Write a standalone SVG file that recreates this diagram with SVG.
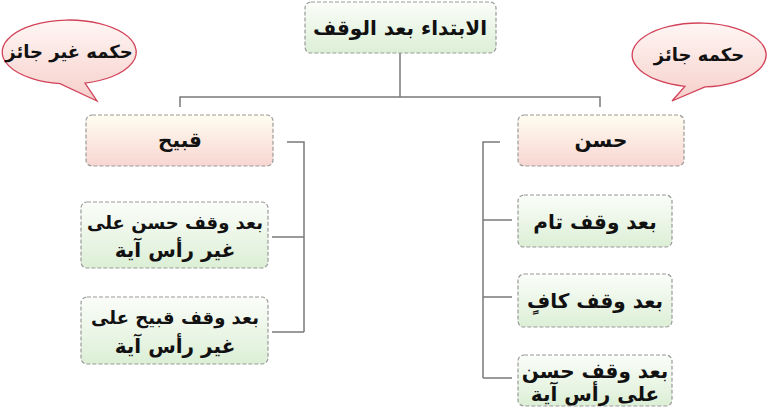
<svg xmlns="http://www.w3.org/2000/svg" width="768" height="408" viewBox="0 0 768 408">
<defs>
<linearGradient id="g" x1="0" y1="0" x2="0" y2="1"><stop offset="0" stop-color="#fbfdf9"/><stop offset="1" stop-color="#dcefd6"/></linearGradient>
<linearGradient id="p" x1="0" y1="0" x2="0" y2="1"><stop offset="0" stop-color="#fffdf0"/><stop offset="1" stop-color="#f8d6d2"/></linearGradient>
<linearGradient id="b" x1="0" y1="0" x2="0" y2="1"><stop offset="0" stop-color="#fff6f4"/><stop offset="1" stop-color="#f6cfca"/></linearGradient>
</defs>
<style>
.n{stroke:#9a9a9a;stroke-width:1.2;stroke-dasharray:4 2}
.gr{fill:url(#g)}.pk{fill:url(#p)}
text{font-family:"DejaVu Sans",sans-serif;font-weight:bold;font-size:20px;fill:#111;text-anchor:middle}
.s{font-size:18px}
.c{fill:none;stroke:#7a7a7a;stroke-width:1.5}
.bub{fill:url(#b);stroke:#d2435a;stroke-width:1.3}
</style>
<g id="connectors">
<path class="c" d="M400 53V97M180 107V97H600V107"/>
<path class="c" d="M287 142H304V332M272 237H304M272 332H304"/>
<path class="c" d="M500 142H483V378M483 220H512M483 297H512M483 378H512"/>
</g>
<g id="bubble-left"><path class="bub" d="M85 83.1 L97 101 L60 83.7 A67 32 0 1 1 85 83.1 Z"/><text class="s" x="69" y="58">حكمه غير جائز</text></g>
<g id="bubble-right"><path class="bub" d="M705 86.9 L672 101 L685 86.3 A67 32 0 1 1 705 86.9 Z"/><text class="s" x="699" y="61">حكمه جائز</text></g>
<g id="root"><rect class="n gr" x="305" y="2" width="191" height="51" rx="6"/><text x="400" y="35">الابتداء بعد الوقف</text></g>
<g id="qabih"><rect class="n pk" x="86" y="115" width="187" height="51" rx="6"/><text x="180" y="147">قبيح</text></g>
<g id="hasan"><rect class="n pk" x="518" y="115" width="166" height="51" rx="6"/><text x="601" y="147">حسن</text></g>
<g id="l1"><rect class="n gr" x="81" y="202" width="187" height="66" rx="6"/><text class="s" x="175" y="229">بعد وقف حسن على</text><text x="175" y="257">غير رأس آية</text></g>
<g id="l2"><rect class="n gr" x="81" y="297" width="187" height="67" rx="6"/><text class="s" x="175" y="324">بعد وقف قبيح على</text><text x="175" y="353">غير رأس آية</text></g>
<g id="r1"><rect class="n gr" x="518" y="195" width="154" height="52" rx="6"/><text x="595" y="229">بعد وقف تام</text></g>
<g id="r2"><rect class="n gr" x="518" y="274" width="154" height="53" rx="6"/><text x="595" y="308">بعد وقف كافٍ</text></g>
<g id="r3"><rect class="n gr" x="518" y="355" width="154" height="51" rx="6"/><text x="595" y="378">بعد وقف حسن</text><text x="595" y="401">على رأس آية</text></g>
</svg>
